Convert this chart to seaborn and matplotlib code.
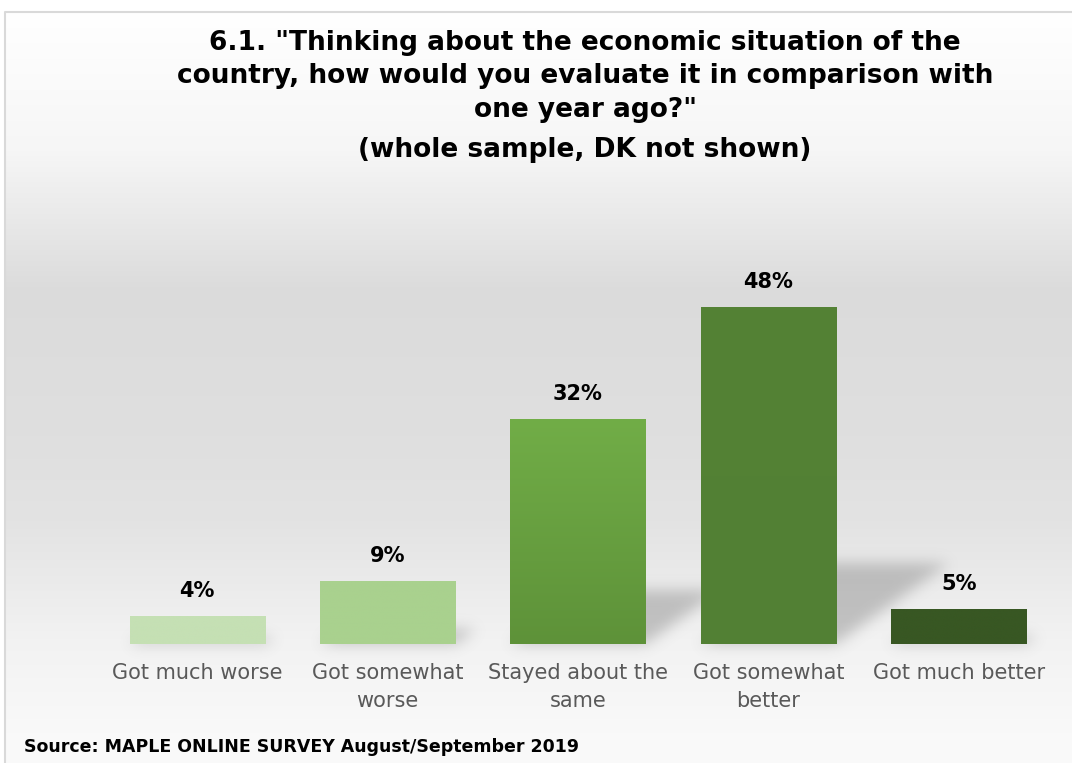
import numpy as np
import pandas as pd
import matplotlib
matplotlib.use("Agg")
import matplotlib.pyplot as plt
import seaborn as sns
from matplotlib.colors import to_rgb

# Survey answers and shares (%)
categories = ["Got much worse", "Got somewhat\nworse", "Stayed about the\nsame",
              "Got somewhat\nbetter", "Got much better"]
shares = [4, 9, 32, 48, 5]
value_labels = ["4%", "9%", "32%", "48%", "5%"]
top_colors = ["#C5E0B4", "#A9D18E", "#71AD47", "#548235", "#385723"]
bottom_colors = ["#C5E0B4", "#A9D18E", "#5E9239", "#528034", "#385723"]

title_lines = ['6.1. "Thinking about the economic situation of the',
               'country, how would you evaluate it in comparison with',
               'one year ago?"',
               '(whole sample, DK not shown)']
source_text = "Source: MAPLE ONLINE SURVEY August/September 2019"

sns.set_theme(style="white")
plt.rcParams['font.family'] = ['DejaVu Sans']

W, H = 1072, 763
fig = plt.figure(figsize=(W / 100, H / 100), dpi=100)

# Chart-area background: white -> light grey -> white vertical gradient
bg = fig.add_axes([0, 0, 1, 1], zorder=0)
rows = np.arange(H)
shade = np.interp(rows, [0, 12, 150, 290, 440, 520, 640, 745, 763],
                  [1.0, 1.0, 0.965, 0.86, 0.875, 0.89, 0.95, 0.98, 0.98])
img = np.repeat(shade[:, None], W, axis=1)
img[:, :5] = 1.0
img[:12, :] = 1.0
bg.imshow(np.dstack([img] * 3), extent=[0, W, H, 0], aspect='auto', interpolation='bilinear')
bg.plot([5, 5, W + 5], [H + 5, 12, 12], color="#D9D9D9", lw=1.5, clip_on=False)
bg.set_xlim(0, W)
bg.set_ylim(H, 0)
bg.axis('off')

# Bar chart
ax = fig.add_axes([102 / W, (H - 644) / H, 952 / W, 421 / H], zorder=1)
ax.patch.set_alpha(0)
df = pd.DataFrame({"answer": categories, "share": shares})
sns.barplot(data=df, x="answer", y="share", hue="answer", palette=top_colors,
            legend=False, width=0.71, saturation=1, ax=ax, zorder=3)
ax.set_xlim(-0.5, 4.5)
ax.set_ylim(0, 60)

# Soft perspective shadows cast behind each bar
nx, ny = 952, 440
ymin_s = -2.5
xs = np.linspace(-0.5, 4.5, nx)
yy = np.linspace(ymin_s, 60, ny)
X, Y = np.meshgrid(xs, yy)
mask = np.zeros_like(X)
px_per_y = 421 / 60
px_per_x = 952 / 5
for patch in ax.patches:
    x0, w, h = patch.get_x(), patch.get_width(), patch.get_height()
    sh = 0.24 * h
    dx = 1.4 * sh * px_per_y / px_per_x
    t = np.clip(Y / sh, 0, 1)
    inside = (Y >= 0) & (Y <= sh) & (X >= x0 + dx * t) & (X <= x0 + w + dx * t)
    mask[inside] = 1.0
k = np.exp(-0.5 * (np.arange(-21, 22) / 7.0) ** 2)
k /= k.sum()
mask = np.apply_along_axis(lambda r: np.convolve(r, k, mode='same'), 1, mask)
mask = np.apply_along_axis(lambda c: np.convolve(c, k, mode='same'), 0, mask)
shadow = np.zeros((ny, nx, 4))
shadow[..., :3] = 0.45
shadow[..., 3] = mask * 0.38
ax.imshow(shadow, extent=[-0.5, 4.5, ymin_s, 60], origin='lower', aspect='auto',
          zorder=2, clip_on=False)
ax.set_xlim(-0.5, 4.5)
ax.set_ylim(0, 60)

# Vertical colour gradient inside each bar
for patch, ctop, cbot in zip(ax.patches, top_colors, bottom_colors):
    x0, w, h = patch.get_x(), patch.get_width(), patch.get_height()
    g = np.linspace(0, 1, 100)[:, None]
    grad = np.array(to_rgb(cbot)) * (1 - g[..., None]) + np.array(to_rgb(ctop)) * g[..., None]
    grad = np.repeat(grad, 2, axis=1)
    im = ax.imshow(grad, extent=[x0, x0 + w, 0, h], origin='lower', aspect='auto', zorder=4)
    im.set_clip_path(patch)
    patch.set_edgecolor('none')
ax.set_xlim(-0.5, 4.5)
ax.set_ylim(0, 60)

# Value labels above the bars
for patch, lab in zip(ax.patches, value_labels):
    ax.annotate(lab, (patch.get_x() + patch.get_width() / 2, patch.get_height()),
                xytext=(0, 18), textcoords='offset points', ha='center', va='center',
                fontsize=15, fontweight='bold', color='black', zorder=5)

for s in ax.spines.values():
    s.set_visible(False)
ax.set_xlabel("")
ax.set_ylabel("")
ax.set_yticks([])
ax.tick_params(axis='x', length=0, pad=14, labelsize=15, labelcolor='#595959')
for t in ax.get_xticklabels():
    t.set_linespacing(1.5)

# Title and source note
for line, base in zip(title_lines, [50, 83, 117, 157]):
    fig.text(585 / W, 1 - base / H, line, ha='center', va='baseline',
             fontsize=19, fontweight='bold', color='black')
fig.text(24 / W, 1 - 752 / H, source_text, ha='left', va='baseline',
         fontsize=12.5, fontweight='bold', color='black')

fig.savefig("out.png", dpi=100)
